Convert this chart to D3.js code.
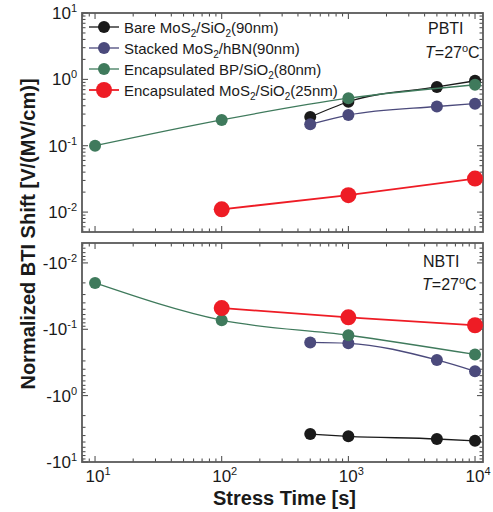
<!DOCTYPE html>
<html>
<head>
<meta charset="utf-8">
<script src="https://cdnjs.cloudflare.com/ajax/libs/d3/7.8.5/d3.min.js"></script>
<style>
  body { margin: 0; background: #fff; }
  svg text { font-family: "Liberation Sans", Arial, sans-serif; fill: #1a1a1a; }
  .tick-label { font-size: 17px; }
  .axis-title { font-size: 20px; font-weight: bold; }
  .legend-text { font-size: 15px; }
  .panel-text { font-size: 16px; }
</style>
</head>
<body>
<svg id="chart" width="493" height="512"></svg>
<script>
// data
const seriesNames = ["Bare MoS2/SiO2(90nm)", "Stacked MoS2/hBN(90nm)", "Encapsulated BP/SiO2(80nm)", "Encapsulated MoS2/SiO2(25nm)"];
const seriesColors = ["#1a1a1a", "#4b4a7c", "#3f7a5c", "#ee1c25"];

const timesBare = [500, 1000, 5000, 10000];
const timesStacked = [500, 1000, 5000, 10000];
const timesBP = [10, 100, 1000, 10000];
const timesEnc = [100, 1000, 10000];

const pbtiBare = [0.27, 0.46, 0.77, 0.95];
const pbtiStacked = [0.21, 0.29, 0.39, 0.43];
const pbtiBP = [0.10, 0.245, 0.52, 0.83];
const pbtiEnc = [0.011, 0.018, 0.032];

const nbtiBare = [-3.8, -4.1, -4.5, -4.8];
const nbtiStacked = [-0.158, -0.163, -0.29, -0.43];
const nbtiBP = [-0.020, -0.073, -0.123, -0.24];
const nbtiEnc = [-0.048, -0.066, -0.087];

const xTicks = [10, 100, 1000, 10000];
const yTicks = [0.01, 0.1, 1, 10];

const svg = d3.select("#chart");

const left = 82, right = 483;
const x = d3.scaleLog()
    .domain([Math.pow(10, 0.897), Math.pow(10, 4.063)])
    .range([left, right]);

const yTop = d3.scaleLog()
    .domain([Math.pow(10, -2.3), 10])
    .range([232, 13]);

// bottom panel plots |value|, negative shifts grow downward
const yBot = d3.scaleLog()
    .domain([Math.pow(10, -2.3), 10])
    .range([243, 462]);

function minorValues(domain) {
    let out = [];
    for (let e = -3; e <= 5; e++) {
        for (let m = 1; m <= 9; m++) {
            let v = m * Math.pow(10, e);
            if (v >= domain[0] * 0.999 && v <= domain[1] * 1.001) out.push({v: v, major: m === 1});
        }
    }
    return out;
}

function expLabel(sel, prefix, v) {
    let e = Math.round(Math.log10(v));
    sel.append("tspan").text(prefix + "10");
    sel.append("tspan").attr("dy", -7).attr("font-size", 11).text(e);
}

function drawPanel(y, negative) {
    const g = svg.append("g");
    const top = Math.min(...y.range()), bottom = Math.max(...y.range());

    // x ticks, top and bottom edges
    minorValues(x.domain()).forEach(function(t) {
        let len = t.major ? 6 : 3.5;
        g.append("line")
            .attr("x1", x(t.v)).attr("x2", x(t.v))
            .attr("y1", bottom).attr("y2", bottom - len)
            .attr("stroke", "#444").attr("stroke-width", 1);
        g.append("line")
            .attr("x1", x(t.v)).attr("x2", x(t.v))
            .attr("y1", top).attr("y2", top + len)
            .attr("stroke", "#444").attr("stroke-width", 1);
    });

    // y ticks, left and right edges
    minorValues(y.domain()).forEach(function(t) {
        let len = t.major ? 6 : 3.5;
        g.append("line")
            .attr("y1", y(t.v)).attr("y2", y(t.v))
            .attr("x1", left).attr("x2", left + len)
            .attr("stroke", "#444").attr("stroke-width", 1);
        g.append("line")
            .attr("y1", y(t.v)).attr("y2", y(t.v))
            .attr("x1", right).attr("x2", right - len)
            .attr("stroke", "#444").attr("stroke-width", 1);
    });

    g.append("rect")
        .attr("x", left).attr("y", top)
        .attr("width", right - left).attr("height", bottom - top)
        .attr("fill", "none")
        .attr("stroke", "#5a5a5a")
        .attr("stroke-width", 1.8);

    yTicks.forEach(function(v) {
        let t = g.append("text")
            .attr("class", "tick-label")
            .attr("x", left - 5)
            .attr("y", y(v) + 6)
            .attr("text-anchor", "end");
        expLabel(t, negative ? "-" : "", v);
    });
}

drawPanel(yTop, false);
drawPanel(yBot, true);

// x tick labels under the bottom panel
xTicks.forEach(function(v) {
    let t = svg.append("text")
        .attr("class", "tick-label")
        .attr("x", x(v) + 3)
        .attr("y", 482)
        .attr("text-anchor", "middle");
    expLabel(t, "", v);
});

svg.append("text")
    .attr("class", "axis-title")
    .attr("x", (left + right) / 2 + 2)
    .attr("y", 505)
    .attr("text-anchor", "middle")
    .text("Stress Time [s]");

svg.append("text")
    .attr("class", "axis-title")
    .attr("font-size", 22)
    .attr("transform", "translate(35," + 234 + ") rotate(-90)")
    .attr("text-anchor", "middle")
    .text("Normalized BTI Shift [V/(MV/cm)]");

function drawSeries(y, times, values, color, r, width) {
    let pts = times.map((t, i) => [x(t), y(Math.abs(values[i]))]);
    svg.append("path")
        .attr("d", d3.line().curve(d3.curveMonotoneX)(pts))
        .attr("fill", "none")
        .attr("stroke", color)
        .attr("stroke-width", width);
    svg.append("g").selectAll("circle")
        .data(pts)
        .join("circle")
        .attr("cx", d => d[0])
        .attr("cy", d => d[1])
        .attr("r", r)
        .attr("fill", color);
}

drawSeries(yTop, timesBare, pbtiBare, seriesColors[0], 6, 1.3);
drawSeries(yTop, timesStacked, pbtiStacked, seriesColors[1], 6, 1.3);
drawSeries(yTop, timesBP, pbtiBP, seriesColors[2], 6, 1.3);
drawSeries(yTop, timesEnc, pbtiEnc, seriesColors[3], 8, 1.8);

drawSeries(yBot, timesBare, nbtiBare, seriesColors[0], 6, 1.3);
drawSeries(yBot, timesStacked, nbtiStacked, seriesColors[1], 6, 1.3);
drawSeries(yBot, timesBP, nbtiBP, seriesColors[2], 6, 1.3);
drawSeries(yBot, timesEnc, nbtiEnc, seriesColors[3], 8, 1.8);

// legend
const legendParts = [
    ["Bare MoS", "2", "/SiO", "2", "(90nm)"],
    ["Stacked MoS", "2", "/hBN(90nm)"],
    ["Encapsulated BP/SiO", "2", "(80nm)"],
    ["Encapsulated MoS", "2", "/SiO", "2", "(25nm)"]
];
seriesNames.forEach(function(d, i) {
    let ly = 27 + 21 * i;
    svg.append("line")
        .attr("x1", 89).attr("x2", 119)
        .attr("y1", ly).attr("y2", ly)
        .attr("stroke", seriesColors[i])
        .attr("stroke-width", i === 3 ? 1.8 : 1.3);
    svg.append("circle")
        .attr("cx", 104).attr("cy", ly)
        .attr("r", i === 3 ? 8 : 6)
        .attr("fill", seriesColors[i]);
    let t = svg.append("text")
        .attr("class", "legend-text")
        .attr("x", 124)
        .attr("y", ly + 5.5);
    legendParts[i].forEach(function(p, k) {
        let sub = k % 2 === 1;
        t.append("tspan")
            .attr("font-size", sub ? 10 : null)
            .attr("dy", sub ? 4 : (k > 0 ? -4 : 0))
            .text(p);
    });
});

// panel annotations
function panelLabel(name, xName, yName, xT, yT) {
    svg.append("text").attr("class", "panel-text")
        .attr("x", xName).attr("y", yName).text(name);
    let t = svg.append("text").attr("class", "panel-text")
        .attr("x", xT).attr("y", yT);
    t.append("tspan").attr("font-style", "italic").text("T");
    t.append("tspan").text("=27");
    t.append("tspan").attr("dy", -6).attr("font-size", 11).text("o");
    t.append("tspan").attr("dy", 6).text("C");
}
panelLabel("PBTI", 428, 34, 425, 58);
panelLabel("NBTI", 423, 267, 422, 290);
</script>
</body>
</html>
